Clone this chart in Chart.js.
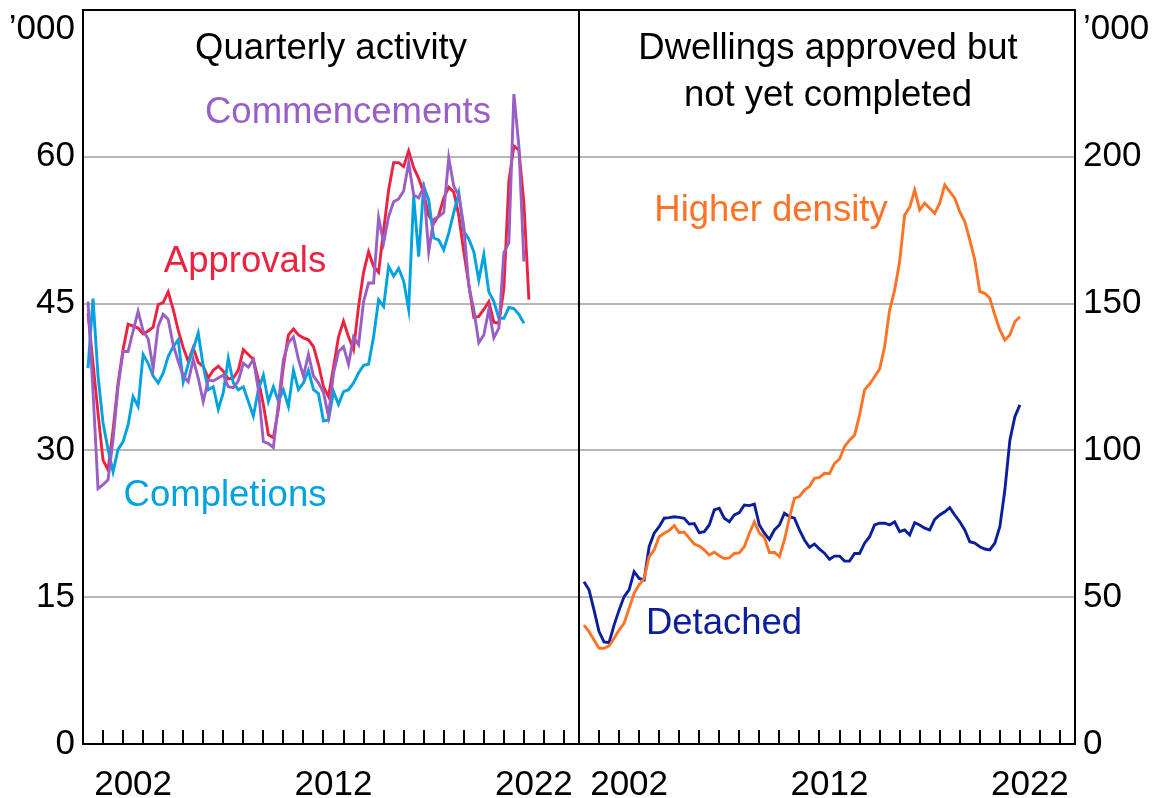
<!DOCTYPE html>
<html>
<head>
<meta charset="utf-8">
<script src="https://cdn.jsdelivr.net/npm/chart.js@4.4.1/dist/chart.umd.min.js"></script>
<style>
html, body { margin: 0; padding: 0; background: #fff; }
canvas { display: block; }
</style>
</head>
<body>
<canvas id="chart" width="1153" height="798"></canvas>
<script>
'use strict'

// quarters, plotted at quarter end (2000 Q1 ... 2022 Q1)
var quarters = [];
for (var yr = 2000; yr <= 2022; yr++) {
	for (var q = 1; q <= 4; q++) quarters.push(yr + ' Q' + q);
}

// left panel, '000 dwellings per quarter
var approvals = [44.0, 38.9, 33.8, 29.0, 28.0, 32.1, 36.9, 40.3, 42.9, 42.7,
	42.5, 41.9, 42.2, 42.6, 44.9, 45.1, 46.2, 44.4, 42.3, 40.5,
	39.1, 40.5, 39.0, 38.6, 37.4, 38.2, 38.6, 38.1, 37.3, 37.4,
	38.2, 40.3, 39.8, 39.3, 37.2, 34.7, 31.6, 31.3, 34.2, 38.6,
	41.8, 42.4, 41.8, 41.5, 41.3, 40.6, 38.8, 36.5, 35.5, 38.5,
	41.6, 43.2, 41.6, 40.3, 44.7, 48.2, 50.3, 48.8, 48.2, 52.5,
	56.6, 59.4, 59.4, 59.0, 60.6, 58.9, 57.8, 56.3, 54.0, 53.2,
	54.0, 55.8, 56.9, 56.4, 54.0, 50.3, 47.0, 43.6, 43.7, 44.4,
	45.2, 43.1, 43.0, 46.5, 57.5, 61.1, 60.7, 55.3, 45.4];

var commencements = [45.2, 36.0, 26.1, 26.5, 27.0, 31.1, 36.5, 40.1, 40.1, 42.2,
	44.2, 42.2, 41.4, 38.4, 42.7, 43.9, 43.4, 40.8, 39.1, 37.6,
	37.0, 39.3, 37.4, 35.0, 37.2, 37.1, 37.4, 37.7, 36.5, 36.4,
	37.1, 38.9, 38.5, 39.3, 36.2, 30.9, 30.7, 30.3, 34.8, 39.3,
	41.0, 41.6, 39.3, 37.6, 39.8, 37.6, 36.9, 35.9, 33.5, 37.9,
	40.1, 40.6, 38.8, 41.6, 40.8, 45.2, 47.1, 47.1, 53.8, 51.2,
	53.9, 55.4, 55.7, 56.5, 59.4, 56.1, 55.8, 56.9, 50.3, 53.6,
	53.9, 54.3, 59.9, 57.0, 56.1, 52.9, 46.8, 44.4, 41.0, 41.8,
	44.4, 41.5, 42.5, 50.2, 51.2, 66.4, 61.1, 49.3];

var completions = [38.4, 45.5, 37.6, 32.8, 30.1, 27.8, 30.1, 30.9, 32.6, 35.5,
	34.5, 39.8, 38.9, 37.6, 36.9, 37.9, 39.6, 40.6, 41.3, 37.0,
	38.8, 40.3, 42.0, 38.6, 36.2, 36.5, 34.2, 35.9, 39.4, 36.9,
	36.2, 36.5, 35.0, 33.5, 36.2, 37.7, 35.0, 36.5, 35.0, 36.2,
	34.5, 38.2, 36.2, 36.9, 38.2, 36.2, 35.8, 33.0, 33.1, 36.0,
	34.7, 36.0, 36.2, 36.9, 37.9, 38.7, 38.8, 41.6, 45.4, 44.7,
	48.8, 47.8, 48.6, 47.3, 44.4, 56.0, 49.8, 57.0, 55.6, 51.7,
	51.5, 50.5, 52.2, 54.3, 56.3, 52.4, 51.6, 50.3, 47.4, 50.0,
	46.2, 45.2, 43.5, 43.5, 44.6, 44.5, 43.9, 43.0];

// right panel, '000 dwellings approved but not yet completed
var higherDensity = [40.5, 38.3, 35.4, 32.6, 32.6, 33.4, 36.0, 38.8, 41.1, 46.2,
	51.3, 54.2, 56.4, 63.8, 66.1, 70.6, 71.8, 72.7, 74.4, 72.0,
	72.2, 70.1, 68.1, 67.4, 66.1, 64.4, 65.3, 64.1, 63.2, 63.4,
	64.9, 65.1, 67.2, 71.8, 75.7, 71.8, 70.4, 65.2, 65.3, 63.8,
	69.5, 77.0, 83.7, 84.3, 86.5, 87.7, 90.5, 90.8, 92.2, 92.1,
	95.6, 97.0, 101.3, 103.5, 105.2, 112.0, 120.6, 122.6, 125.1, 127.7,
	135.3, 147.8, 154.6, 164.3, 180.2, 182.8, 188.7, 181.9, 184.2, 182.5,
	180.7, 184.2, 190.4, 188.1, 185.9, 181.3, 177.9, 171.7, 164.9, 154.1,
	153.5, 151.8, 146.1, 141.0, 137.6, 139.3, 143.8, 145.5];

var detached = [55.3, 52.5, 45.6, 38.3, 34.8, 34.5, 40.5, 45.6, 50.2, 52.5,
	58.7, 56.4, 55.9, 67.2, 71.8, 74.0, 76.9, 77.1, 77.4, 77.2,
	76.9, 74.9, 75.1, 72.0, 72.3, 74.6, 79.7, 80.3, 76.9, 75.7,
	78.0, 78.8, 81.4, 81.2, 81.7, 74.6, 71.8, 69.7, 72.9, 74.6,
	78.6, 77.4, 76.9, 72.9, 69.5, 67.0, 68.1, 66.4, 65.0, 62.9,
	64.0, 64.0, 62.3, 62.3, 64.9, 64.9, 68.4, 70.6, 74.6, 75.2,
	75.2, 74.6, 75.7, 72.3, 72.9, 71.2, 75.4, 74.6, 73.5, 72.9,
	76.5, 78.0, 79.1, 80.5, 78.0, 75.7, 72.9, 68.9, 68.4, 67.2,
	66.4, 66.1, 68.4, 74.0, 86.5, 103.5, 111.5, 115.5];

// axis ticks
var leftTicks = [0, 15, 30, 45, 60, 75];
var rightTicks = [0, 50, 100, 150, 200, 250];
var yearLabels = [2002, 2012, 2022];

// each panel spans 2000 to end of Q3 2024 on the x axis
var baseYear = 2000;
var panelSpan = 24.75;

var FONT = 'Arial, "Liberation Sans", sans-serif';
var FS = 35;      // tick labels
var NOTE_FS = 36.5; // panel titles and series names

function quarterPos(label) {
	var parts = label.split(' Q');
	return (+parts[0] - baseYear) + (+parts[1]) * 0.25;
}

function toPoints(values, offset) {
	return values.map(function(v, i) {
		return { x: offset + quarterPos(quarters[i]), y: v };
	});
}

function line(label, values, color, offset, axis) {
	return {
		label: label,
		data: toPoints(values, offset),
		borderColor: color,
		backgroundColor: color,
		borderWidth: 2.9,
		pointRadius: 0,
		tension: 0,
		yAxisID: axis
	};
}

// texts drawn in the panels
var notes = [
	{ text: 'Quarterly activity', x: 331, y: 49, color: '#000' },
	{ text: 'Dwellings approved but', x: 828, y: 49, color: '#000' },
	{ text: 'not yet completed', x: 828, y: 96, color: '#000' },
	{ text: 'Commencements', x: 348, y: 113, color: '#9a5fc6' },
	{ text: 'Approvals', x: 245, y: 262, color: '#ec2340' },
	{ text: 'Completions', x: 225, y: 496, color: '#00a3e0' },
	{ text: 'Higher density', x: 771, y: 211, color: '#ff7326' },
	{ text: 'Detached', x: 724, y: 624, color: '#0b1e9c' }
];

var framePlugin = {
	id: 'frame',
	afterDraw: function(chart) {
		var ctx = chart.ctx;
		var a = chart.chartArea;
		var xs = chart.scales.x;
		ctx.save();
		ctx.strokeStyle = '#000';
		ctx.lineWidth = 2;
		ctx.strokeRect(a.left, a.top, a.right - a.left, a.bottom - a.top);
		// divider between the panels
		var dx = Math.round(xs.getPixelForValue(panelSpan));
		ctx.beginPath();
		ctx.moveTo(dx, a.top);
		ctx.lineTo(dx, a.bottom);
		ctx.stroke();
		// year ticks pointing into the panels
		ctx.beginPath();
		[0, panelSpan].forEach(function(off) {
			for (var k = 1; k < panelSpan; k++) {
				var px = Math.round(xs.getPixelForValue(off + k));
				ctx.moveTo(px, a.bottom);
				ctx.lineTo(px, a.bottom - 14);
			}
		});
		ctx.stroke();
		// texts
		ctx.font = NOTE_FS + 'px ' + FONT;
		ctx.textAlign = 'center';
		ctx.textBaseline = 'middle';
		notes.forEach(function(n) {
			ctx.fillStyle = n.color;
			ctx.fillText(n.text, n.x, n.y);
		});
		ctx.font = FS + 'px ' + FONT;
		ctx.fillStyle = '#000';
		ctx.textAlign = 'right';
		ctx.fillText('\u2019000', a.left - 8, a.top + 19);
		ctx.textAlign = 'left';
		ctx.fillText('\u2019000', a.right + 8, a.top + 19);
		ctx.restore();
	}
};

function fixPad(scale) {
	scale.paddingTop = 0;
	scale.paddingBottom = 0;
	scale.paddingLeft = 0;
	scale.paddingRight = 0;
}

var ctx = document.getElementById('chart').getContext('2d');

var chart = new Chart(ctx, {
	type: 'line',
	data: {
		datasets: [
			line('Commencements', commencements, '#9a5fc6', 0, 'y'),
			line('Completions', completions, '#00a3e0', 0, 'y'),
			line('Approvals', approvals, '#ec2340', 0, 'y'),
			line('Higher density', higherDensity, '#ff7326', panelSpan, 'y2'),
			line('Detached', detached, '#0b1e9c', panelSpan, 'y2')
		]
	},
	options: {
		responsive: false,
		animation: false,
		devicePixelRatio: 1,
		layout: { padding: { top: 10, left: 0, right: 0, bottom: 0 } },
		plugins: {
			legend: { display: false },
			tooltip: { enabled: false }
		},
		scales: {
			x: {
				type: 'linear',
				min: 0,
				max: panelSpan * 2,
				grid: { display: false },
				border: { display: false },
				afterBuildTicks: function(scale) {
					var t = [];
					[0, panelSpan].forEach(function(off) {
						yearLabels.forEach(function(y) {
							t.push({ value: off + (y - baseYear) + 0.5 });
						});
					});
					scale.ticks = t;
				},
				afterFit: function(scale) {
					scale.height = 54;
					fixPad(scale);
				},
				ticks: {
					autoSkip: false,
					maxRotation: 0,
					padding: 12,
					color: '#000',
					font: { family: FONT, size: FS },
					callback: function(v) {
						var off = v >= panelSpan ? panelSpan : 0;
						return String(baseYear + Math.floor(v - off));
					}
				}
			},
			y: {
				position: 'left',
				min: 0,
				max: 75,
				grid: { color: '#b8b8b8', lineWidth: 2, drawTicks: false },
				border: { display: false },
				afterBuildTicks: function(scale) {
					scale.ticks = leftTicks.map(function(v) { return { value: v }; });
				},
				afterFit: function(scale) {
					scale.width = 83;
					fixPad(scale);
				},
				ticks: {
					padding: 8,
					color: '#000',
					font: { family: FONT, size: FS },
					callback: function(v) { return v === 75 ? '' : v; }
				}
			},
			y2: {
				position: 'right',
				min: 0,
				max: 250,
				grid: { display: false, drawTicks: false },
				border: { display: false },
				afterBuildTicks: function(scale) {
					scale.ticks = rightTicks.map(function(v) { return { value: v }; });
				},
				afterFit: function(scale) {
					scale.width = 78;
					fixPad(scale);
				},
				ticks: {
					padding: 8,
					color: '#000',
					font: { family: FONT, size: FS },
					callback: function(v) { return v === 250 ? '' : v; }
				}
			}
		}
	},
	plugins: [framePlugin]
});
</script>
</body>
</html>
